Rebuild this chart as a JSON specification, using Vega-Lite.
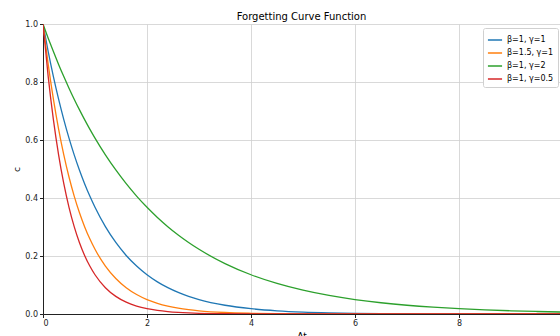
{
  "$schema": "https://vega.github.io/schema/vega-lite/v6.json",
  "width": 517,
  "height": 290,
  "autosize": {"type": "none"},
  "padding": {"left": 43, "top": 24, "right": 0, "bottom": 22},
  "background": "white",
  "title": {"text": "Forgetting Curve Function", "fontSize": 10, "font": "DejaVu Sans", "fontWeight": "normal", "color": "#000", "offset": -2, "anchor": "middle"},
  "config": {
    "view": {"stroke": null},
    "axis": {"labelFont": "DejaVu Sans", "titleFont": "DejaVu Sans", "labelFontSize": 8, "titleFontSize": 9, "titleFontWeight": "normal", "labelColor": "#222", "titleColor": "#000", "domainColor": "#222", "tickColor": "#222", "tickSize": 3.5, "gridColor": "#cfcfcf", "gridWidth": 0.8}
  },
  "data": {"values": [
    {"t": 0, "k1": 1, "k2": 1, "k3": 1, "k4": 1},
    {"t": 0.1, "k1": 0.9048, "k2": 0.8607, "k3": 0.9512, "k4": 0.8187},
    {"t": 0.2, "k1": 0.8187, "k2": 0.7408, "k3": 0.9048, "k4": 0.6703},
    {"t": 0.3, "k1": 0.7408, "k2": 0.6376, "k3": 0.8607, "k4": 0.5488},
    {"t": 0.4, "k1": 0.6703, "k2": 0.5488, "k3": 0.8187, "k4": 0.4493},
    {"t": 0.5, "k1": 0.6065, "k2": 0.4724, "k3": 0.7788, "k4": 0.3679},
    {"t": 0.6, "k1": 0.5488, "k2": 0.4066, "k3": 0.7408, "k4": 0.3012},
    {"t": 0.7, "k1": 0.4966, "k2": 0.3499, "k3": 0.7047, "k4": 0.2466},
    {"t": 0.8, "k1": 0.4493, "k2": 0.3012, "k3": 0.6703, "k4": 0.2019},
    {"t": 0.9, "k1": 0.4066, "k2": 0.2592, "k3": 0.6376, "k4": 0.1653},
    {"t": 1.0, "k1": 0.3679, "k2": 0.2231, "k3": 0.6065, "k4": 0.1353},
    {"t": 1.2, "k1": 0.3012, "k2": 0.1653, "k3": 0.5488, "k4": 0.0907},
    {"t": 1.4, "k1": 0.2466, "k2": 0.1225, "k3": 0.4966, "k4": 0.0608},
    {"t": 1.6, "k1": 0.2019, "k2": 0.0907, "k3": 0.4493, "k4": 0.0408},
    {"t": 1.8, "k1": 0.1653, "k2": 0.0672, "k3": 0.4066, "k4": 0.0273},
    {"t": 2.0, "k1": 0.1353, "k2": 0.0498, "k3": 0.3679, "k4": 0.0183},
    {"t": 2.2, "k1": 0.1108, "k2": 0.0369, "k3": 0.3329, "k4": 0.0123},
    {"t": 2.4, "k1": 0.0907, "k2": 0.0273, "k3": 0.3012, "k4": 0.0082},
    {"t": 2.6, "k1": 0.0743, "k2": 0.0202, "k3": 0.2725, "k4": 0.0055},
    {"t": 2.8, "k1": 0.0608, "k2": 0.015, "k3": 0.2466, "k4": 0.0037},
    {"t": 3.0, "k1": 0.0498, "k2": 0.0111, "k3": 0.2231, "k4": 0.0025},
    {"t": 3.5, "k1": 0.0302, "k2": 0.0052, "k3": 0.1738, "k4": 0.0009},
    {"t": 4.0, "k1": 0.0183, "k2": 0.0025, "k3": 0.1353, "k4": 0.0003},
    {"t": 4.5, "k1": 0.0111, "k2": 0.0012, "k3": 0.1054, "k4": 0.0001},
    {"t": 5.0, "k1": 0.0067, "k2": 0.0006, "k3": 0.0821, "k4": 0},
    {"t": 5.5, "k1": 0.0041, "k2": 0.0003, "k3": 0.0639, "k4": 0},
    {"t": 6.0, "k1": 0.0025, "k2": 0.0001, "k3": 0.0498, "k4": 0},
    {"t": 6.5, "k1": 0.0015, "k2": 0.0001, "k3": 0.0388, "k4": 0},
    {"t": 7.0, "k1": 0.0009, "k2": 0, "k3": 0.0302, "k4": 0},
    {"t": 7.5, "k1": 0.0006, "k2": 0, "k3": 0.0235, "k4": 0},
    {"t": 8.0, "k1": 0.0003, "k2": 0, "k3": 0.0183, "k4": 0},
    {"t": 8.5, "k1": 0.0002, "k2": 0, "k3": 0.0143, "k4": 0},
    {"t": 9.0, "k1": 0.0001, "k2": 0, "k3": 0.0111, "k4": 0},
    {"t": 9.5, "k1": 0.0001, "k2": 0, "k3": 0.0087, "k4": 0},
    {"t": 10, "k1": 0, "k2": 0, "k3": 0.0067, "k4": 0}
  ]},
  "transform": [{"fold": ["k1", "k2", "k3", "k4"], "as": ["series", "c"]}],
  "mark": {"type": "line", "strokeWidth": 1.3, "clip": true, "interpolate": "monotone"},
  "encoding": {
    "x": {"field": "t", "type": "quantitative", "title": "Δt", "scale": {"domain": [0, 9.942], "nice": false, "zero": false},
      "axis": {"values": [0, 2, 4, 6, 8], "format": "d", "titlePadding": 4, "labelPadding": 2}},
    "y": {"field": "c", "type": "quantitative", "title": "c", "scale": {"domain": [0, 1], "nice": false},
      "axis": {"values": [0, 0.2, 0.4, 0.6, 0.8, 1.0], "format": ".1f", "titlePadding": 3, "labelPadding": 2}},
    "color": {"field": "series", "type": "nominal", "sort": null,
      "scale": {"domain": ["k1", "k2", "k3", "k4"], "range": ["#1f77b4", "#ff7f0e", "#2ca02c", "#d62728"]},
      "legend": {"title": null, "orient": "none", "legendX": 440, "legendY": 4, "symbolType": "stroke", "symbolSize": 200, "symbolStrokeWidth": 1.5,
        "labelFont": "DejaVu Sans", "labelFontSize": 8, "labelColor": "#000", "rowPadding": 1, "padding": 4,
        "strokeColor": "#d0d0d0", "fillColor": "white", "cornerRadius": 2,
        "labelExpr": "{'k1': 'β=1, γ=1', 'k2': 'β=1.5, γ=1', 'k3': 'β=1, γ=2', 'k4': 'β=1, γ=0.5'}[datum.label]"}}
  }
}
